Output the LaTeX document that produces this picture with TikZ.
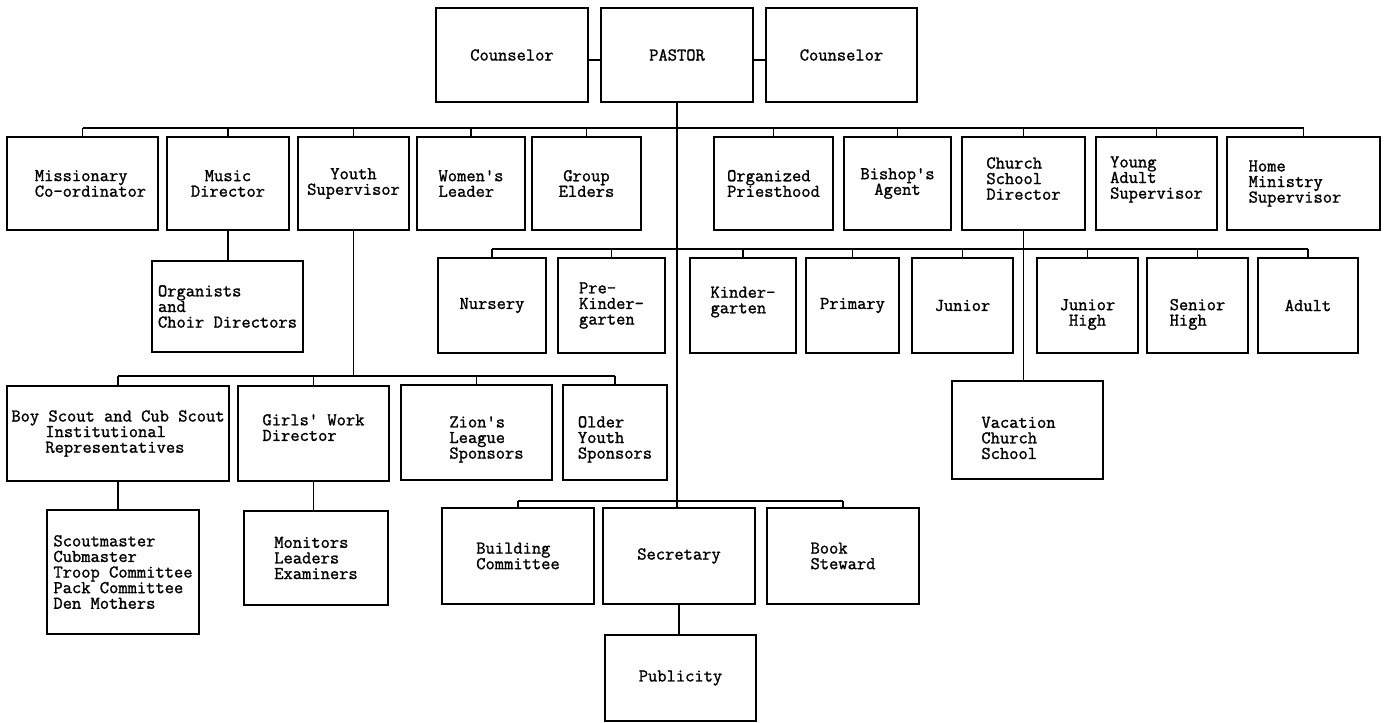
\documentclass[tikz,border=0pt]{standalone}
\usepackage{fontspec}
\newfontfamily\typefont{Latin Modern Mono}[FakeBold=1.3]
\newcommand\chartfont{\fontsize{18}{15.6}\selectfont\typefont}
% push text block down (first line) or up (last line)
\newcommand\dn[1]{\rule{0pt}{#1}}
\newcommand\up[1]{\rule[-#1]{0pt}{0pt}}
\tikzset{
  box/.style={draw, line width=1.2pt, inner sep=2pt, font=\chartfont},
  wire/.style={line width=1.2pt},
}
% name, x1, y1, x2, y2, align, text
\newcommand\bx[7]{%
  \node[box, align=#6, minimum width={#4-#2}, minimum height={#5-#3}]
    (#1) at ({(#2+#4)/2},{(#3+#5)/2}) {#7};}
\begin{document}
\begin{tikzpicture}[x=1pt,y=-1pt]
\path[use as bounding box] (0,0) rectangle (1385,723);

% top row
\bx{cl}{436}{8}{588}{102}{center}{Counselor}
\bx{pastor}{601}{8}{753}{102}{center}{PASTOR}
\bx{cr}{766}{8}{917}{102}{center}{Counselor}

% second row
\bx{miss}{7}{137}{158}{230}{left}{\hspace*{16pt}Missionary\\\hspace*{16pt}Co-ordinator}
\bx{music}{167}{137}{289}{230}{center}{Music\\Director}
\bx{youth}{298}{137}{409}{230}{center}{Youth\\Supervisor}
\bx{women}{417}{137}{525}{230}{left}{Women's\\Leader}
\bx{group}{532}{137}{641}{230}{center}{Group\\Elders}
\bx{organ}{714}{137}{833}{230}{left}{Organized\\Priesthood}
\bx{bishop}{844}{137}{951}{230}{center}{Bishop's\\Agent}
\bx{church}{962}{137}{1085}{230}{left}{Church\\School\\Director\up{10pt}}
\bx{young}{1096}{137}{1217}{230}{left}{Young\\Adult\\Supervisor\up{12pt}}
\bx{home}{1227}{137}{1380}{230}{left}{Home\\Ministry\\Supervisor\hspace*{17pt}}

% organists
\bx{orgs}{152}{261}{303}{352}{left}{Organists\\and\\Choir Directors}

% third row
\bx{nursery}{438}{258}{546}{353}{center}{Nursery}
\bx{prek}{558}{258}{665}{353}{left}{Pre-\\Kinder-\\garten}
\bx{kinder}{690}{258}{796}{353}{left}{Kinder-\\garten\up{11pt}}
\bx{primary}{806}{258}{899}{353}{center}{Primary}
\bx{junior}{912}{258}{1013}{353}{center}{Junior}
\bx{jhigh}{1037}{258}{1138}{353}{center}{\dn{29pt}Junior\\High}
\bx{shigh}{1147}{258}{1248}{353}{left}{\dn{29pt}Senior\\High}
\bx{adult}{1258}{258}{1358}{353}{center}{Adult}

% fourth row
\bx{boy}{7}{386}{229}{481}{left}{Boy Scout and Cub Scout\\\hspace*{34pt}Institutional\\\hspace*{34pt}Representatives}
\bx{girls}{238}{386}{389}{481}{left}{Girls' Work\\Director\up{12pt}}
\bx{zion}{401}{385}{552}{480}{left}{\hspace*{20pt}\dn{25pt}Zion's\\\hspace*{20pt}League\\\hspace*{20pt}Sponsors}
\bx{older}{563}{385}{667}{480}{left}{\dn{25pt}Older\\Youth\\Sponsors}
\bx{vac}{952}{381}{1103}{479}{left}{\dn{27pt}Vacation\hspace*{18pt}\\Church\\School}

% fifth row
\bx{scout}{47}{510}{199}{634}{left}{Scoutmaster\\Cubmaster\\Troop Committee\\Pack Committee\\Den Mothers}
\bx{monitors}{244}{511}{388}{605}{left}{Monitors\\Leaders\\Examiners}
\bx{building}{442}{508}{594}{604}{left}{Building\\Committee}
\bx{sec}{603}{508}{755}{604}{center}{Secretary}
\bx{book}{767}{508}{919}{604}{left}{Book\\Steward}
\bx{pub}{605}{635}{756}{721}{center}{Publicity}

% bar coordinates
\coordinate (bartwo) at (0,128);
\coordinate (barthree) at (0,249);
\coordinate (barfour) at (0,376);
\coordinate (barfive) at (0,501);

% connectors
\draw[wire] ([yshift=-5pt]cl.east) -- ([yshift=-5pt]pastor.west);
\draw[wire] ([yshift=-5pt]pastor.east) -- ([yshift=-5pt]cr.west);
\draw[wire] (pastor.south) -- (pastor.south |- sec.north);

\draw[wire] (miss.north |- bartwo) -- (home.north |- bartwo);
\foreach \n in {miss,music,youth,women,group,organ,bishop,church,young,home}
  \draw[wire] (\n.north) -- (\n.north |- bartwo);

\draw[wire] (music.south) -- (music.south |- orgs.north);

\draw[wire] (nursery.north |- barthree) -- (adult.north |- barthree);
\foreach \n in {nursery,prek,kinder,primary,junior,jhigh,shigh,adult}
  \draw[wire] (\n.north) -- (\n.north |- barthree);

\draw[wire] (church.south) -- (church.south |- vac.north);

\draw[wire] (youth.south) -- (youth.south |- barfour);
\draw[wire] (boy.north |- barfour) -- (older.north |- barfour);
\foreach \n in {boy,girls,zion,older}
  \draw[wire] (\n.north) -- (\n.north |- barfour);

\draw[wire] (boy.south) -- (boy.south |- scout.north);
\draw[wire] (girls.south) -- (girls.south |- monitors.north);

\draw[wire] (building.north |- barfive) -- (book.north |- barfive);
\foreach \n in {building,book}
  \draw[wire] (\n.north) -- (\n.north |- barfive);

\draw[wire] (sec.south) -- (sec.south |- pub.north);
\end{tikzpicture}
\end{document}
